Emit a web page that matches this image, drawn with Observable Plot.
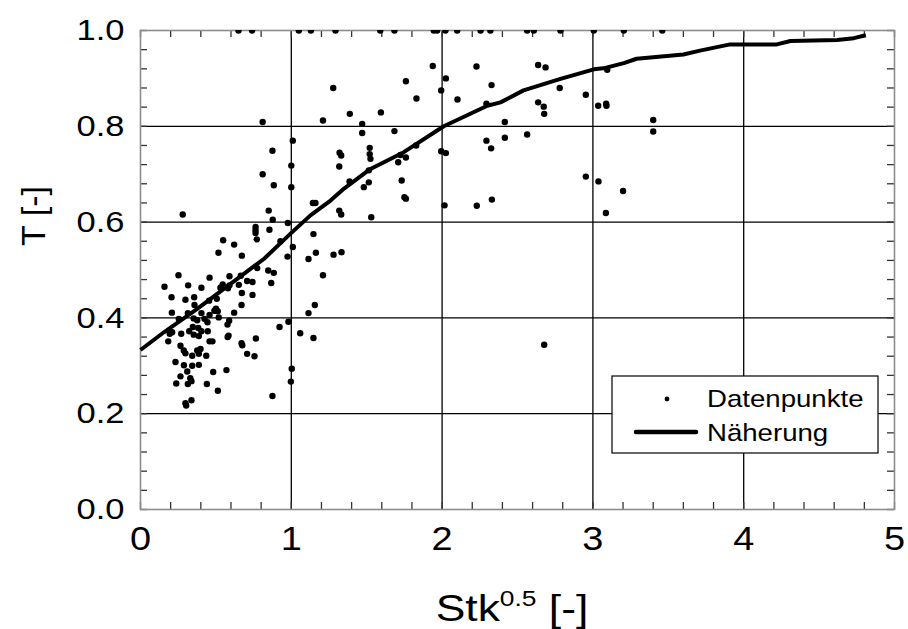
<!DOCTYPE html>
<html>
<head>
<meta charset="utf-8">
<script src="https://cdn.jsdelivr.net/npm/d3@7"></script>
<script src="https://cdn.jsdelivr.net/npm/@observablehq/plot@0.6"></script>
<style>
  body { margin: 0; background: #fff; }
  svg text { font-family: "Liberation Sans", Arial, sans-serif; }
</style>
</head>
<body>
<div id="chart"></div>
<script>
// ---- data ----
const xTickLabels = [0, 1, 2, 3, 4, 5];
const yTickLabels = [0, 0.2, 0.4, 0.6, 0.8, 1.0];
const xGrid = [1, 2, 3, 4];
const yGrid = [0.2, 0.4, 0.6, 0.8];

// points sitting on the upper limit T = 1.0
const oberkanteX = [0.65, 0.74, 1.05, 1.13, 1.293, 1.59, 1.684, 1.945, 1.967, 2.022, 2.10, 2.255, 2.32, 2.564, 2.608, 2.785, 3.006, 3.205, 3.46];

// scattered measurement points [Stk^0.5, T]
const datenpunkte = [
  [0.81,0.809],[1.21,0.812],[1.01,0.77],[0.875,0.749],[1.0,0.718],[0.81,0.70],[0.884,0.677],[1.0,0.673],
  [1.143,0.640],[1.16,0.640],[0.28,0.616],[0.85,0.624],[0.877,0.605],[0.977,0.598],[0.763,0.59],[0.763,0.583],
  [0.763,0.577],[0.855,0.584],[1.147,0.575],[0.771,0.564],[0.548,0.562],[0.928,0.56],[0.621,0.553],[1.01,0.548],
  [0.517,0.536],[1.163,0.536],[0.672,0.53],[0.975,0.528],[1.114,0.523],[0.774,0.504],[0.847,0.499],[0.884,0.494],
  [0.252,0.489],[1.21,0.489],[0.458,0.484],[0.59,0.487],[0.665,0.488],[0.159,0.465],[0.316,0.468],[0.404,0.463],
  [0.53,0.463],[0.545,0.47],[0.59,0.468],[0.58,0.462],[0.652,0.469],[0.707,0.477],[0.743,0.475],[0.867,0.473],
  [0.672,0.452],[0.743,0.448],[0.206,0.443],[0.298,0.438],[0.356,0.443],[0.506,0.44],[0.455,0.436],[0.358,0.427],
  [0.67,0.427],[1.156,0.427],[0.50,0.419],[0.512,0.414],[0.49,0.415],[0.208,0.411],[0.314,0.41],[0.404,0.41],
  [0.621,0.411],[1.114,0.41],[0.254,0.398],[0.458,0.406],[0.424,0.398],[0.444,0.391],[0.519,0.401],[0.353,0.399],
  [0.376,0.395],[0.588,0.394],[0.577,0.386],[0.981,0.392],[0.922,0.381],[0.21,0.37],[0.194,0.367],[0.27,0.367],
  [0.347,0.381],[0.383,0.379],[0.404,0.372],[0.323,0.372],[0.353,0.365],[0.446,0.372],[0.387,0.362],[1.059,0.368],
  [1.147,0.358],[0.584,0.363],[0.578,0.36],[0.765,0.357],[0.67,0.347],[0.675,0.343],[0.184,0.351],[0.458,0.351],
  [0.477,0.351],
  [0.265,0.342],[0.287,0.332],[0.298,0.326],[0.343,0.321],[0.387,0.325],[0.398,0.335],[0.376,0.332],[0.436,0.321],
  [0.707,0.325],[0.756,0.32],[0.232,0.308],[0.288,0.301],[0.343,0.30],[0.387,0.302],[0.31,0.288],[0.482,0.287],
  [0.57,0.291],[0.265,0.278],[0.33,0.274],[0.338,0.268],[0.237,0.263],[0.314,0.262],[0.44,0.262],[0.513,0.248],
  [1.003,0.294],[0.997,0.267],[0.875,0.237],[0.298,0.222],[0.303,0.217],[0.338,0.228],
  [1.938,0.926],[2.228,0.925],[2.025,0.90],[1.278,0.88],[1.76,0.894],[2.328,0.886],[1.994,0.875],[1.83,0.858],
  [2.102,0.856],[2.294,0.847],[1.388,0.826],[1.594,0.829],[1.47,0.805],[2.416,0.809],[1.47,0.786],[1.684,0.79],
  [2.294,0.77],[2.416,0.776],[2.325,0.754],[1.32,0.745],[1.331,0.739],[1.52,0.755],[1.52,0.742],[1.525,0.732],
  [1.828,0.76],[1.994,0.748],[2.025,0.744],[1.724,0.74],[1.76,0.735],[1.318,0.716],[1.709,0.725],[1.514,0.708],
  [1.386,0.685],[1.514,0.683],[1.481,0.673],[1.732,0.687],
  [1.75,0.652],[1.76,0.649],[1.318,0.624],[1.331,0.616],[1.53,0.61],[2.016,0.635],[2.23,0.634],[2.33,0.647],
  [1.28,0.532],[1.333,0.537],
  [2.637,0.928],[2.686,0.923],[3.095,0.918],[2.78,0.88],[2.953,0.866],[2.637,0.85],[2.674,0.841],[2.677,0.826],
  [3.035,0.843],[3.088,0.847],[3.09,0.843],[2.564,0.783],[3.40,0.813],[3.40,0.789],[2.953,0.695],[3.037,0.685],
  [3.20,0.665],[3.086,0.619],[2.677,0.344]
];

// fitted curve "Näherung"
const naeherungX = [0, 0.155, 0.376, 0.597, 0.818, 0.995, 1.127, 1.26, 1.35, 1.525, 1.746, 2.011, 2.166, 2.30, 2.387, 2.54, 2.785, 3.006, 3.07, 3.205, 3.29, 3.40, 3.60, 3.71, 3.91, 4.22, 4.31, 4.62, 4.73, 4.81];
const naeherungY = [0.333, 0.370, 0.419, 0.471, 0.523, 0.576, 0.614, 0.645, 0.67, 0.711, 0.746, 0.80, 0.823, 0.843, 0.850, 0.875, 0.899, 0.919, 0.921, 0.932, 0.941, 0.944, 0.95, 0.958, 0.971, 0.971, 0.978, 0.98, 0.984, 0.99];

const legendLabels = ["Datenpunkte", "Näherung"];

// ---- build ----
const W = 908, H = 629;
const mL = 140, mR = 14, mT = 30, mB = 120;
const plotH = H - mT - mB;
const plotW = W - mL - mR;
const TICK = 7;
const SX = 1.15; // horizontal text stretch of the original

const xMinor = d3.range(0, 5.0001, 0.2);
const yMinor = d3.range(0, 1.0001, 0.04);

const points = datenpunkte.map(([x, y]) => ({x, y}))
  .concat(oberkanteX.map(x => ({x, y: 1.0})));
const curve = naeherungX.map((x, i) => ({x, y: naeherungY[i]}));

const plot = Plot.plot({
  width: W, height: H,
  marginLeft: mL, marginRight: mR, marginTop: mT, marginBottom: mB,
  x: {domain: [0, 5]},
  y: {domain: [0, 1]},
  style: {background: "#fff", color: "#000", fontFamily: "Liberation Sans, Arial, sans-serif"},
  marks: [
    Plot.gridX(xGrid, {stroke: "#000", strokeOpacity: 1, strokeWidth: 1.3}),
    Plot.gridY(yGrid, {stroke: "#000", strokeOpacity: 1, strokeWidth: 1.3}),
    // inward ticks on all four sides
    Plot.tickX(xMinor, {x: d => d, stroke: "#333", strokeWidth: 1.3, insetTop: plotH - TICK}),
    Plot.tickX(xMinor, {x: d => d, stroke: "#333", strokeWidth: 1.3, insetBottom: plotH - TICK}),
    Plot.tickY(yMinor, {y: d => d, stroke: "#333", strokeWidth: 1.3, insetRight: plotW - TICK}),
    Plot.tickY(yMinor, {y: d => d, stroke: "#333", strokeWidth: 1.3, insetLeft: plotW - TICK}),
    Plot.frame({stroke: "#8c8c8c", strokeWidth: 1.6}),
    Plot.axisX(xTickLabels, {tickSize: 0, tickPadding: 17, fontSize: 33, label: null, tickFormat: d3.format("d")}),
    Plot.axisY(yTickLabels, {tickSize: 0, tickPadding: 16, fontSize: 30, label: null, tickFormat: d3.format(".1f")}),
    Plot.dot(points, {x: "x", y: "y", r: 3.2, fill: "#000", stroke: "none", clip: true}),
    Plot.line(curve, {x: "x", y: "y", stroke: "#000", strokeWidth: 4, strokeLinejoin: "round", strokeLinecap: "butt"})
  ]
});

document.getElementById("chart").appendChild(plot);
const svg = d3.select(plot);

// stretch a text horizontally around its anchor, keeping any em-based y offset
function stretch(el, sx) {
  const xs = el.getAttribute("x");
  const x = xs !== null && !isNaN(+xs) ? +xs : 0;
  if (xs !== null && !isNaN(+xs)) el.removeAttribute("x");
  const t = el.getAttribute("transform") || "";
  el.setAttribute("transform", `${t} translate(${x},0) scale(${sx},1)`);
}

// axis titles
svg.append("text")
  .attr("transform", "translate(45,216) rotate(-90)")
  .attr("text-anchor", "middle")
  .attr("font-size", 34)
  .attr("fill", "#000")
  .text("T [-]");

const xTitle = svg.append("text")
  .attr("x", 512).attr("y", 621)
  .attr("text-anchor", "middle")
  .attr("font-size", 37)
  .attr("fill", "#000")
  .style("white-space", "pre");
xTitle.append("tspan").text("Stk");
xTitle.append("tspan").attr("font-size", 22).attr("dy", -15).text("0.5");
xTitle.append("tspan").attr("dy", 15).text(" [-]");

// legend
const lg = svg.append("g").attr("aria-label", "legend");
lg.append("rect").attr("x", 612).attr("y", 376).attr("width", 266).attr("height", 77)
  .attr("fill", "#fff").attr("stroke", "#000").attr("stroke-width", 1.2);
lg.append("circle").attr("cx", 667).attr("cy", 399).attr("r", 2.4).attr("fill", "#000");
lg.append("line").attr("x1", 636).attr("x2", 696).attr("y1", 432).attr("y2", 432)
  .attr("stroke", "#000").attr("stroke-width", 4.5).attr("stroke-linecap", "round");
lg.append("text").attr("x", 707).attr("y", 407).attr("text-anchor", "start")
  .attr("font-size", 24).attr("fill", "#000").text(legendLabels[0]);
lg.append("text").attr("x", 707).attr("y", 441).attr("text-anchor", "start")
  .attr("font-size", 24).attr("fill", "#000").text(legendLabels[1]);

svg.selectAll('g[aria-label="x-axis tick label"] text, g[aria-label="y-axis tick label"] text, g[aria-label="legend"] text')
  .each(function () { stretch(this, SX); });
stretch(xTitle.node(), 1.2);
</script>
</body>
</html>
